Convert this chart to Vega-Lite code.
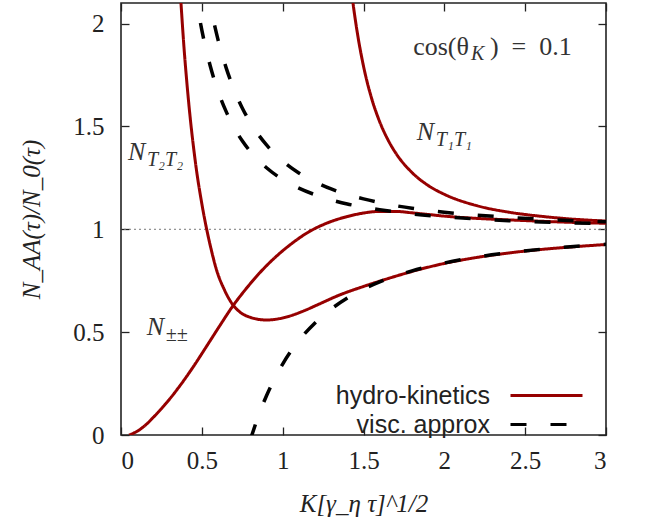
{
  "$schema": "https://vega.github.io/schema/vega-lite/v6.json",
  "width": 485,
  "height": 432,
  "autosize": {"type": "none"},
  "padding": {"left": 121, "top": 3, "right": 40, "bottom": 86},
  "background": "white",
  "config": {
    "view": {"stroke": "#222", "strokeWidth": 1.6},
    "axis": {
      "labelFont": "Liberation Serif", "labelFontSize": 25, "labelColor": "#222",
      "titleFont": "Liberation Serif", "titleFontSize": 25, "titleFontStyle": "italic",
      "titleFontWeight": "normal", "titleColor": "#222",
      "grid": false, "domain": false, "tickColor": "#222", "tickWidth": 1.3, "tickSize": 8, "offset": -8
    }
  },
  "datasets": {
    "curves": [
      {"curve": "T2T2", "type": "hydro-kinetics", "K": 0.355, "N": 2.3},
      {"curve": "T2T2", "type": "hydro-kinetics", "K": 0.371, "N": 2.1},
      {"curve": "T2T2", "type": "hydro-kinetics", "K": 0.39, "N": 1.88},
      {"curve": "T2T2", "type": "hydro-kinetics", "K": 0.41, "N": 1.69},
      {"curve": "T2T2", "type": "hydro-kinetics", "K": 0.427, "N": 1.55},
      {"curve": "T2T2", "type": "hydro-kinetics", "K": 0.45, "N": 1.39},
      {"curve": "T2T2", "type": "hydro-kinetics", "K": 0.47, "N": 1.27},
      {"curve": "T2T2", "type": "hydro-kinetics", "K": 0.49, "N": 1.17},
      {"curve": "T2T2", "type": "hydro-kinetics", "K": 0.51, "N": 1.08},
      {"curve": "T2T2", "type": "hydro-kinetics", "K": 0.53, "N": 1.0},
      {"curve": "T2T2", "type": "hydro-kinetics", "K": 0.56, "N": 0.895},
      {"curve": "T2T2", "type": "hydro-kinetics", "K": 0.59, "N": 0.805},
      {"curve": "T2T2", "type": "hydro-kinetics", "K": 0.64, "N": 0.705},
      {"curve": "T2T2", "type": "hydro-kinetics", "K": 0.69, "N": 0.635},
      {"curve": "T2T2", "type": "hydro-kinetics", "K": 0.74, "N": 0.595},
      {"curve": "T2T2", "type": "hydro-kinetics", "K": 0.8, "N": 0.572},
      {"curve": "T2T2", "type": "hydro-kinetics", "K": 0.86, "N": 0.561},
      {"curve": "T2T2", "type": "hydro-kinetics", "K": 0.9, "N": 0.559},
      {"curve": "T2T2", "type": "hydro-kinetics", "K": 0.96, "N": 0.563},
      {"curve": "T2T2", "type": "hydro-kinetics", "K": 1.03, "N": 0.575},
      {"curve": "T2T2", "type": "hydro-kinetics", "K": 1.12, "N": 0.6},
      {"curve": "T2T2", "type": "hydro-kinetics", "K": 1.23, "N": 0.638},
      {"curve": "T2T2", "type": "hydro-kinetics", "K": 1.35, "N": 0.68},
      {"curve": "T2T2", "type": "hydro-kinetics", "K": 1.5, "N": 0.722},
      {"curve": "T2T2", "type": "hydro-kinetics", "K": 1.65, "N": 0.76},
      {"curve": "T2T2", "type": "hydro-kinetics", "K": 1.8, "N": 0.795},
      {"curve": "T2T2", "type": "hydro-kinetics", "K": 2.0, "N": 0.834},
      {"curve": "T2T2", "type": "hydro-kinetics", "K": 2.2, "N": 0.863},
      {"curve": "T2T2", "type": "hydro-kinetics", "K": 2.4, "N": 0.885},
      {"curve": "T2T2", "type": "hydro-kinetics", "K": 2.6, "N": 0.902},
      {"curve": "T2T2", "type": "hydro-kinetics", "K": 2.8, "N": 0.915},
      {"curve": "T2T2", "type": "hydro-kinetics", "K": 3.0, "N": 0.926},

      {"curve": "PM", "type": "hydro-kinetics", "K": 0.05, "N": 0.0},
      {"curve": "PM", "type": "hydro-kinetics", "K": 0.1, "N": 0.018},
      {"curve": "PM", "type": "hydro-kinetics", "K": 0.15, "N": 0.047},
      {"curve": "PM", "type": "hydro-kinetics", "K": 0.2, "N": 0.086},
      {"curve": "PM", "type": "hydro-kinetics", "K": 0.25, "N": 0.128},
      {"curve": "PM", "type": "hydro-kinetics", "K": 0.3, "N": 0.174},
      {"curve": "PM", "type": "hydro-kinetics", "K": 0.365, "N": 0.24},
      {"curve": "PM", "type": "hydro-kinetics", "K": 0.45, "N": 0.335},
      {"curve": "PM", "type": "hydro-kinetics", "K": 0.53, "N": 0.432},
      {"curve": "PM", "type": "hydro-kinetics", "K": 0.61, "N": 0.53},
      {"curve": "PM", "type": "hydro-kinetics", "K": 0.69, "N": 0.625},
      {"curve": "PM", "type": "hydro-kinetics", "K": 0.78, "N": 0.717},
      {"curve": "PM", "type": "hydro-kinetics", "K": 0.86, "N": 0.79},
      {"curve": "PM", "type": "hydro-kinetics", "K": 0.96, "N": 0.868},
      {"curve": "PM", "type": "hydro-kinetics", "K": 1.06, "N": 0.933},
      {"curve": "PM", "type": "hydro-kinetics", "K": 1.15, "N": 0.982},
      {"curve": "PM", "type": "hydro-kinetics", "K": 1.29, "N": 1.035},
      {"curve": "PM", "type": "hydro-kinetics", "K": 1.4, "N": 1.062},
      {"curve": "PM", "type": "hydro-kinetics", "K": 1.5, "N": 1.079},
      {"curve": "PM", "type": "hydro-kinetics", "K": 1.6, "N": 1.087},
      {"curve": "PM", "type": "hydro-kinetics", "K": 1.7, "N": 1.087},
      {"curve": "PM", "type": "hydro-kinetics", "K": 1.8, "N": 1.08},
      {"curve": "PM", "type": "hydro-kinetics", "K": 1.9, "N": 1.072},
      {"curve": "PM", "type": "hydro-kinetics", "K": 2.0, "N": 1.064},
      {"curve": "PM", "type": "hydro-kinetics", "K": 2.2, "N": 1.053},
      {"curve": "PM", "type": "hydro-kinetics", "K": 2.42, "N": 1.045},
      {"curve": "PM", "type": "hydro-kinetics", "K": 2.7, "N": 1.036},
      {"curve": "PM", "type": "hydro-kinetics", "K": 3.0, "N": 1.029},

      {"curve": "T1T1", "type": "hydro-kinetics", "K": 1.42, "N": 2.196},
      {"curve": "T1T1", "type": "hydro-kinetics", "K": 1.435, "N": 2.1},
      {"curve": "T1T1", "type": "hydro-kinetics", "K": 1.46, "N": 1.964},
      {"curve": "T1T1", "type": "hydro-kinetics", "K": 1.5, "N": 1.793},
      {"curve": "T1T1", "type": "hydro-kinetics", "K": 1.55, "N": 1.637},
      {"curve": "T1T1", "type": "hydro-kinetics", "K": 1.6, "N": 1.523},
      {"curve": "T1T1", "type": "hydro-kinetics", "K": 1.65, "N": 1.437},
      {"curve": "T1T1", "type": "hydro-kinetics", "K": 1.7, "N": 1.37},
      {"curve": "T1T1", "type": "hydro-kinetics", "K": 1.8, "N": 1.276},
      {"curve": "T1T1", "type": "hydro-kinetics", "K": 1.9, "N": 1.213},
      {"curve": "T1T1", "type": "hydro-kinetics", "K": 2.0, "N": 1.17},
      {"curve": "T1T1", "type": "hydro-kinetics", "K": 2.2, "N": 1.115},
      {"curve": "T1T1", "type": "hydro-kinetics", "K": 2.4, "N": 1.083},
      {"curve": "T1T1", "type": "hydro-kinetics", "K": 2.6, "N": 1.063},
      {"curve": "T1T1", "type": "hydro-kinetics", "K": 2.8, "N": 1.049},
      {"curve": "T1T1", "type": "hydro-kinetics", "K": 3.0, "N": 1.04},

      {"curve": "V1", "type": "visc. approx", "K": 0.45, "N": 2.195},
      {"curve": "V1", "type": "visc. approx", "K": 0.5, "N": 1.968},
      {"curve": "V1", "type": "visc. approx", "K": 0.55, "N": 1.8},
      {"curve": "V1", "type": "visc. approx", "K": 0.6, "N": 1.672},
      {"curve": "V1", "type": "visc. approx", "K": 0.65, "N": 1.573},
      {"curve": "V1", "type": "visc. approx", "K": 0.7, "N": 1.494},
      {"curve": "V1", "type": "visc. approx", "K": 0.75, "N": 1.43},
      {"curve": "V1", "type": "visc. approx", "K": 0.8, "N": 1.378},
      {"curve": "V1", "type": "visc. approx", "K": 0.9, "N": 1.299},
      {"curve": "V1", "type": "visc. approx", "K": 1.0, "N": 1.242},
      {"curve": "V1", "type": "visc. approx", "K": 1.1, "N": 1.2},
      {"curve": "V1", "type": "visc. approx", "K": 1.2, "N": 1.168},
      {"curve": "V1", "type": "visc. approx", "K": 1.3, "N": 1.143},
      {"curve": "V1", "type": "visc. approx", "K": 1.4, "N": 1.123},
      {"curve": "V1", "type": "visc. approx", "K": 1.5, "N": 1.108},
      {"curve": "V1", "type": "visc. approx", "K": 1.6, "N": 1.095},
      {"curve": "V1", "type": "visc. approx", "K": 1.8, "N": 1.075},
      {"curve": "V1", "type": "visc. approx", "K": 2.0, "N": 1.061},
      {"curve": "V1", "type": "visc. approx", "K": 2.2, "N": 1.05},
      {"curve": "V1", "type": "visc. approx", "K": 2.4, "N": 1.042},
      {"curve": "V1", "type": "visc. approx", "K": 2.6, "N": 1.036},
      {"curve": "V1", "type": "visc. approx", "K": 2.8, "N": 1.031},
      {"curve": "V1", "type": "visc. approx", "K": 3.0, "N": 1.027},

      {"curve": "V2", "type": "visc. approx", "K": 0.53, "N": 2.182},
      {"curve": "V2", "type": "visc. approx", "K": 0.55, "N": 2.098},
      {"curve": "V2", "type": "visc. approx", "K": 0.6, "N": 1.922},
      {"curve": "V2", "type": "visc. approx", "K": 0.65, "N": 1.786},
      {"curve": "V2", "type": "visc. approx", "K": 0.7, "N": 1.678},
      {"curve": "V2", "type": "visc. approx", "K": 0.75, "N": 1.59},
      {"curve": "V2", "type": "visc. approx", "K": 0.8, "N": 1.519},
      {"curve": "V2", "type": "visc. approx", "K": 0.9, "N": 1.41},
      {"curve": "V2", "type": "visc. approx", "K": 1.0, "N": 1.332},
      {"curve": "V2", "type": "visc. approx", "K": 1.1, "N": 1.274},
      {"curve": "V2", "type": "visc. approx", "K": 1.2, "N": 1.231},
      {"curve": "V2", "type": "visc. approx", "K": 1.3, "N": 1.196},
      {"curve": "V2", "type": "visc. approx", "K": 1.4, "N": 1.169},
      {"curve": "V2", "type": "visc. approx", "K": 1.5, "N": 1.148},
      {"curve": "V2", "type": "visc. approx", "K": 1.6, "N": 1.13},
      {"curve": "V2", "type": "visc. approx", "K": 1.8, "N": 1.102},
      {"curve": "V2", "type": "visc. approx", "K": 2.0, "N": 1.083},
      {"curve": "V2", "type": "visc. approx", "K": 2.2, "N": 1.069},
      {"curve": "V2", "type": "visc. approx", "K": 2.4, "N": 1.058},
      {"curve": "V2", "type": "visc. approx", "K": 2.6, "N": 1.049},
      {"curve": "V2", "type": "visc. approx", "K": 2.8, "N": 1.042},
      {"curve": "V2", "type": "visc. approx", "K": 3.0, "N": 1.037},

      {"curve": "V3", "type": "visc. approx", "K": 0.8, "N": -0.023},
      {"curve": "V3", "type": "visc. approx", "K": 0.85, "N": 0.093},
      {"curve": "V3", "type": "visc. approx", "K": 0.9, "N": 0.191},
      {"curve": "V3", "type": "visc. approx", "K": 0.95, "N": 0.274},
      {"curve": "V3", "type": "visc. approx", "K": 1.0, "N": 0.345},
      {"curve": "V3", "type": "visc. approx", "K": 1.1, "N": 0.459},
      {"curve": "V3", "type": "visc. approx", "K": 1.2, "N": 0.545},
      {"curve": "V3", "type": "visc. approx", "K": 1.3, "N": 0.612},
      {"curve": "V3", "type": "visc. approx", "K": 1.4, "N": 0.666},
      {"curve": "V3", "type": "visc. approx", "K": 1.5, "N": 0.709},
      {"curve": "V3", "type": "visc. approx", "K": 1.6, "N": 0.744},
      {"curve": "V3", "type": "visc. approx", "K": 1.8, "N": 0.798},
      {"curve": "V3", "type": "visc. approx", "K": 2.0, "N": 0.836},
      {"curve": "V3", "type": "visc. approx", "K": 2.2, "N": 0.865},
      {"curve": "V3", "type": "visc. approx", "K": 2.4, "N": 0.886},
      {"curve": "V3", "type": "visc. approx", "K": 2.6, "N": 0.903},
      {"curve": "V3", "type": "visc. approx", "K": 2.8, "N": 0.916},
      {"curve": "V3", "type": "visc. approx", "K": 3.0, "N": 0.927}
    ],
    "labels": [
      {"x": 1.83, "y": 1.473, "main": "N", "sub": "T₁T₁"},
      {"x": 0.043, "y": 1.376, "main": "N", "sub": "T₂T₂"},
      {"x": 0.16, "y": 0.525, "main": "N", "sub": "±±"}
    ],
    "note": [
      {"x": 2.152, "y": 1.886, "a": "cos(θ", "b": "K", "c": ")\u00a0\u00a0=\u00a0\u00a00.1"}
    ]
  },
  "resolve": {"axis": {"x": "independent", "y": "independent"}},
  "layer": [
    {
      "data": {"values": [{"v": 1}]},
      "mark": {"type": "rule", "color": "#777", "strokeWidth": 1, "strokeDash": [2, 3]},
      "encoding": {
        "y": {"field": "v", "type": "quantitative",
              "scale": {"domain": [0, 2.1], "nice": false, "zero": false},
              "axis": {"orient": "right", "labels": false, "title": null, "values": [0, 0.5, 1, 1.5, 2]}}
      }
    },
    {
      "data": {"name": "curves"},
      "transform": [{"filter": "datum.type === 'hydro-kinetics'"}],
      "mark": {"type": "line", "strokeWidth": 3, "interpolate": "monotone", "clip": true},
      "encoding": {
        "x": {"field": "K", "type": "quantitative",
              "scale": {"domain": [0, 3], "nice": false, "zero": false},
              "axis": {"orient": "bottom", "values": [0, 0.5, 1, 1.5, 2, 2.5, 3], "format": "~g",
                       "title": "K[γ_η τ]^1/2", "labelPadding": 13, "titlePadding": 18}},
        "y": {"field": "N", "type": "quantitative",
              "scale": {"domain": [0, 2.1], "nice": false, "zero": false},
              "axis": {"orient": "left", "values": [0, 0.5, 1, 1.5, 2], "format": "~g",
                       "title": "N_AA(τ)/N_0(τ)", "labelPadding": 17, "titlePadding": 28}},
        "color": {"field": "type", "type": "nominal",
                  "scale": {"domain": ["hydro-kinetics", "visc. approx"], "range": ["#960000", "#000000"]},
                  "legend": {"orient": "none", "legendX": 413, "legendY": 380, "title": null,
                             "symbolType": "M-4,0H4", "symbolSize": 324, "symbolStrokeWidth": 3,
                             "labelFont": "Liberation Sans", "labelFontSize": 25, "labelColor": "#222",
                             "labelAlign": "right", "labelOffset": -69, "rowPadding": 3}},
        "strokeDash": {"field": "type", "type": "nominal",
                       "scale": {"domain": ["hydro-kinetics", "visc. approx"], "range": [[1, 0], [16, 24]]},
                       "legend": {"orient": "none", "legendX": 413, "legendY": 380, "title": null,
                             "symbolType": "M-4,0H4", "symbolSize": 324, "symbolStrokeWidth": 3,
                             "labelFont": "Liberation Sans", "labelFontSize": 25, "labelColor": "#222",
                             "labelAlign": "right", "labelOffset": -69, "rowPadding": 3}},
        "detail": {"field": "curve"}
      }
    },
    {
      "data": {"name": "curves"},
      "transform": [{"filter": "datum.type === 'visc. approx'"}],
      "mark": {"type": "line", "strokeWidth": 3.5, "interpolate": "monotone", "clip": true},
      "encoding": {
        "x": {"field": "K", "type": "quantitative", "axis": null},
        "y": {"field": "N", "type": "quantitative", "axis": null},
        "color": {"field": "type", "type": "nominal"},
        "strokeDash": {"field": "type", "type": "nominal"},
        "detail": {"field": "curve"}
      }
    },
    {
      "data": {"name": "labels"},
      "mark": {"type": "text", "font": "Liberation Serif", "fontStyle": "italic", "fontSize": 26,
               "align": "left", "baseline": "middle", "color": "#333"},
      "encoding": {
        "x": {"field": "x", "type": "quantitative",
              "axis": {"orient": "top", "labels": false, "title": null, "values": [0, 0.5, 1, 1.5, 2, 2.5, 3]}},
        "y": {"field": "y", "type": "quantitative", "axis": null},
        "text": {"field": "main"}
      }
    },
    {
      "data": {"name": "labels"},
      "mark": {"type": "text", "font": "Liberation Serif", "fontStyle": "italic", "fontSize": 20,
               "align": "left", "baseline": "middle", "dx": 19, "dy": 8, "color": "#333"},
      "encoding": {
        "x": {"field": "x", "type": "quantitative", "axis": null},
        "y": {"field": "y", "type": "quantitative", "axis": null},
        "text": {"field": "sub"}
      }
    },
    {
      "data": {"name": "note"},
      "mark": {"type": "text", "font": "Liberation Serif", "fontSize": 26,
               "align": "right", "baseline": "middle", "color": "#333"},
      "encoding": {
        "x": {"field": "x", "type": "quantitative", "axis": null},
        "y": {"field": "y", "type": "quantitative", "axis": null},
        "text": {"field": "a"}
      }
    },
    {
      "data": {"name": "note"},
      "mark": {"type": "text", "font": "Liberation Serif", "fontStyle": "italic", "fontSize": 20,
               "align": "left", "baseline": "middle", "dx": 2, "dy": 7, "color": "#333"},
      "encoding": {
        "x": {"field": "x", "type": "quantitative", "axis": null},
        "y": {"field": "y", "type": "quantitative", "axis": null},
        "text": {"field": "b"}
      }
    },
    {
      "data": {"name": "note"},
      "mark": {"type": "text", "font": "Liberation Serif", "fontSize": 26,
               "align": "left", "baseline": "middle", "dx": 21, "color": "#333"},
      "encoding": {
        "x": {"field": "x", "type": "quantitative", "axis": null},
        "y": {"field": "y", "type": "quantitative", "axis": null},
        "text": {"field": "c"}
      }
    }
  ]
}
